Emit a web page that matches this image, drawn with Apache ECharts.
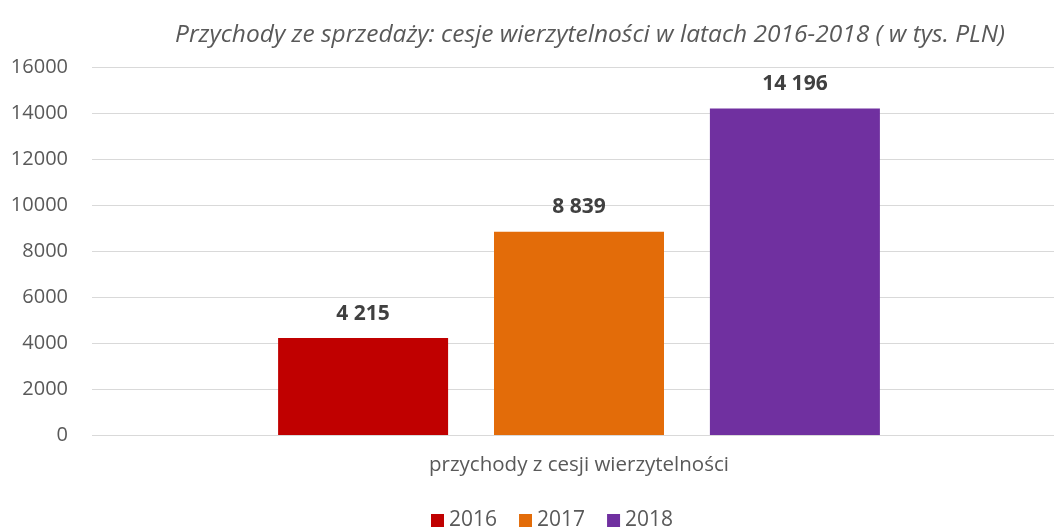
<!DOCTYPE html>
<html>
<head>
<meta charset="utf-8">
<script src="https://cdn.jsdelivr.net/npm/echarts@6/dist/echarts.min.js"></script>
<style>
  html, body { margin: 0; padding: 0; background: #fff; }
  #chart { width: 1054px; height: 527px; }
</style>
</head>
<body>
<div id="chart"></div>
<script>
const categories = ['przychody z cesji wierzytelności'];
const years = ['2016', '2017', '2018'];
const values2016 = [4215];
const values2017 = [8839];
const values2018 = [14196];
const colors = ['#C00000', '#E36C09', '#7030A0'];

const fontFamily = '"Open Sans", "Noto Sans", sans-serif';

// spacja jako separator tysięcy
const fmt = (v) => String(v).replace(/\B(?=(\d{3})+(?!\d))/g, ' ');

const chart = echarts.init(document.getElementById('chart'));
const seriesData = [values2016, values2017, values2018];

const option = {
  animation: false,
  textStyle: { fontFamily: fontFamily },
  title: {
    text: 'Przychody ze sprzedaży: cesje wierzytelności w latach 2016-2018 ( w tys. PLN)',
    left: 585,
    textAlign: 'center',
    top: 18,
    textStyle: {
      fontFamily: fontFamily,
      fontStyle: 'italic',
      fontWeight: 'normal',
      fontSize: 24.5,
      color: '#595959',
    },
  },
  legend: {
    data: years,
    left: 426,
    top: 505,
    itemWidth: 13,
    itemHeight: 13,
    itemGap: 22,
    textStyle: { fontSize: 21, color: '#595959', fontFamily: fontFamily },
    icon: 'rect',
  },
  // grid 0: siatka i oś Y, grid 1: słupki (przesunięte jak w oryginale)
  grid: [
    { left: 92, right: 0, top: 67, bottom: 92 },
    { left: 104, right: 0, top: 67, bottom: 92 },
  ],
  xAxis: [
    {
      gridIndex: 0,
      type: 'category',
      data: categories,
      show: false,
    },
    {
      gridIndex: 1,
      type: 'category',
      data: categories,
      axisLine: { show: false },
      axisTick: { show: false },
      axisLabel: { fontSize: 20.5, color: '#595959', margin: 20 },
    },
  ],
  yAxis: [
    {
      gridIndex: 0,
      type: 'value',
      min: 0,
      max: 16000,
      interval: 2000,
      axisLine: { show: false },
      axisTick: { show: false },
      axisLabel: {
        fontSize: 20,
        color: '#595959',
        margin: 24,
        align: 'right',
        formatter: (v) => String(v),
      },
      splitLine: { lineStyle: { color: '#d9d9d9', width: 1 } },
    },
    {
      gridIndex: 1,
      type: 'value',
      min: 0,
      max: 16000,
      interval: 2000,
      show: false,
      splitLine: { show: false },
    },
  ],
  series: years.map((y, i) => ({
    name: y,
    type: 'bar',
    xAxisIndex: 1,
    yAxisIndex: 1,
    data: seriesData[i],
    barWidth: 170,
    barGap: '27%',
    itemStyle: { color: colors[i] },
    label: {
      show: true,
      position: 'top',
      distance: 14,
      formatter: (p) => fmt(p.value),
      fontSize: 21,
      fontWeight: 'bold',
      color: '#404040',
      fontFamily: fontFamily,
    },
  })),
};

chart.setOption(option);
</script>
</body>
</html>
